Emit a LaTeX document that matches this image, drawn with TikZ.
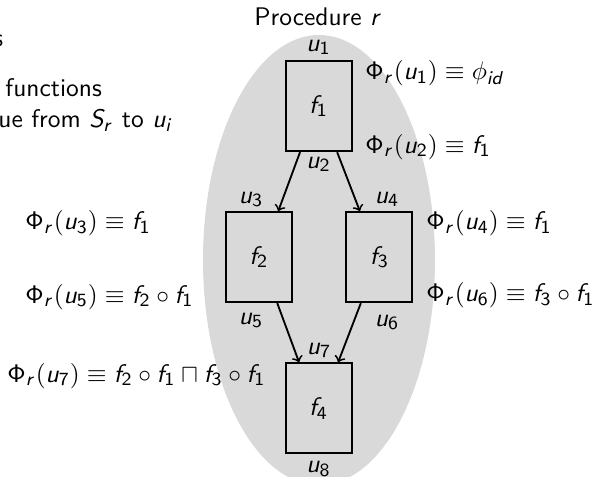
\documentclass[tikz,border=0pt]{standalone}
\usetikzlibrary{positioning,arrows}
\renewcommand{\familydefault}{\sfdefault}
% sans math letters and digits, as on the slide
\DeclareSymbolFont{sfletters}{OT1}{cmss}{m}{sl}
\DeclareSymbolFont{sfdigits}{OT1}{cmss}{m}{n}
\DeclareMathSymbol{u}{\mathalpha}{sfletters}{`u}
\DeclareMathSymbol{f}{\mathalpha}{sfletters}{`f}
\DeclareMathSymbol{r}{\mathalpha}{sfletters}{`r}
\DeclareMathSymbol{S}{\mathalpha}{sfletters}{`S}
\DeclareMathSymbol{i}{\mathalpha}{sfletters}{`i}
\DeclareMathSymbol{d}{\mathalpha}{sfletters}{`d}
\DeclareMathSymbol{1}{\mathalpha}{sfdigits}{`1}
\DeclareMathSymbol{2}{\mathalpha}{sfdigits}{`2}
\DeclareMathSymbol{3}{\mathalpha}{sfdigits}{`3}
\DeclareMathSymbol{4}{\mathalpha}{sfdigits}{`4}
\DeclareMathSymbol{5}{\mathalpha}{sfdigits}{`5}
\DeclareMathSymbol{6}{\mathalpha}{sfdigits}{`6}
\DeclareMathSymbol{7}{\mathalpha}{sfdigits}{`7}
\DeclareMathSymbol{8}{\mathalpha}{sfdigits}{`8}
\DeclareMathSymbol{\Phi}{\mathalpha}{sfdigits}{"08}

\begin{document}
\begin{tikzpicture}[x=0.43pt, y=-0.43pt, font=\fontsize{10.95}{13}\selectfont,
                    block/.style={rectangle, draw, thick, minimum width=28.4pt, minimum height=38.7pt},
                    lbl/.style={inner sep=0pt},
                    flow/.style={->, thick}]
                    \clip (0,0) rectangle (597,477);
                    % procedure body
                    \fill[black!15] (319,260) ellipse [x radius=116, y radius=225];
                    \node[lbl, anchor=base] (title) at (318,25) {Procedure $r$};

                    % left column text (cut off by the frame)
                    \node[lbl, anchor=base west] (t1) at (-7,47) {s};
                    \node[lbl, anchor=base west] (t2) at (5,97) {functions};
                    \node[lbl, anchor=base west] (t3) at (-2,128) {ue from $S_r$ to $u_i$};

                    % nodes of the procedure
                    \node[block] (f1) at (318.6,106.2) {$f_1$};
                    \node[block] (f2) at (258.7,257.2) {$f_2$};
                    \node[block] (f3) at (379.4,257.2) {$f_3$};
                    \node[block] (f4) at (318.6,408.3) {$f_4$};

                    % program points
                    \node[lbl, anchor=base] (u1) at (318.5,51) {$u_1$};
                    \node[lbl, anchor=base] (u2) at (318.5,168) {$u_2$};
                    \node[lbl, anchor=base] (u3) at (251,203) {$u_3$};
                    \node[lbl, anchor=base] (u4) at (387,203) {$u_4$};
                    \node[lbl, anchor=base] (u5) at (251,324) {$u_5$};
                    \node[lbl, anchor=base] (u6) at (387,326) {$u_6$};
                    \node[lbl, anchor=base] (u7) at (319,354) {$u_7$};
                    \node[lbl, anchor=base] (u8) at (318.5,473) {$u_8$};

                    % edges
                    \draw[flow] (f1.-112) -- (f2.67);
                    \draw[flow] (f1.-68) -- (f3.113);
                    \draw[flow] (f2.-68) -- (f4.113);
                    \draw[flow] (f3.-112) -- (f4.67);

                    % summaries
                    \node[lbl, anchor=base west] (s1) at (365,80) {$\Phi_r(u_1) \equiv \phi_{id}$};
                    \node[lbl, anchor=base west] (s2) at (365,153) {$\Phi_r(u_2) \equiv f_1$};
                    \node[lbl, anchor=base west] (s3) at (25,230) {$\Phi_r(u_3) \equiv f_1$};
                    \node[lbl, anchor=base west] (s4) at (426,230) {$\Phi_r(u_4) \equiv f_1$};
                    \node[lbl, anchor=base west] (s5) at (25,303) {$\Phi_r(u_5) \equiv f_2 \circ f_1$};
                    \node[lbl, anchor=base west] (s6) at (426,302) {$\Phi_r(u_6) \equiv f_3 \circ f_1$};
                    \node[lbl, anchor=base west] (s7) at (7,382) {$\Phi_r(u_7) \equiv f_2 \circ f_1 \sqcap f_3 \circ f_1$};
                \end{tikzpicture}
\end{document}
